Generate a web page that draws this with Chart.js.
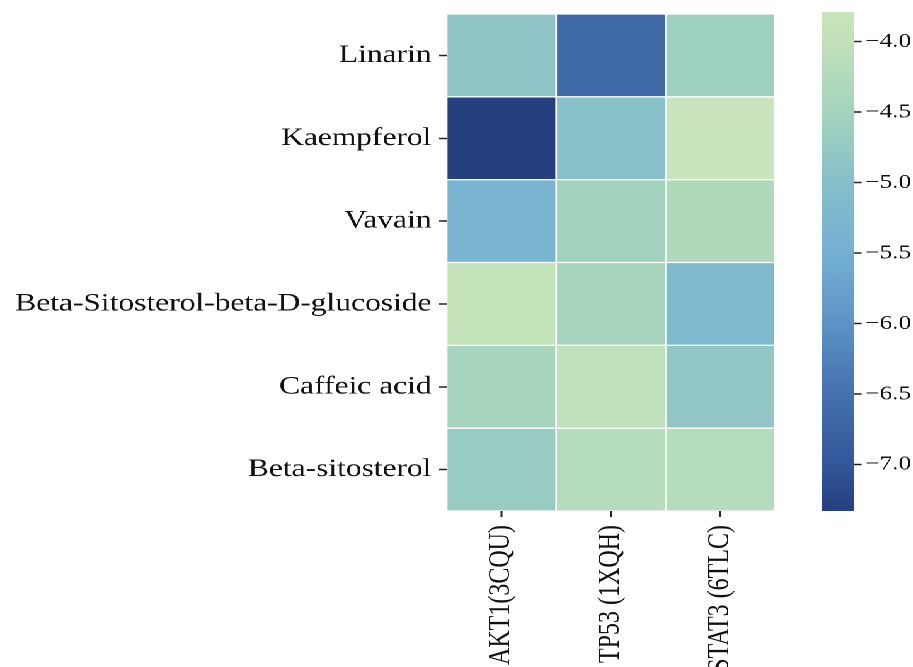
<!DOCTYPE html>
<html>
<head>
<meta charset="utf-8">
<script src="https://cdn.jsdelivr.net/npm/chart.js@4.4.1/dist/chart.umd.min.js"></script>
<style>
  html, body { margin: 0; padding: 0; background: #fff; overflow: hidden; }
  #wrap { position: absolute; left: 0; top: 0; width: 725px; height: 667px; transform: scaleX(1.26); transform-origin: 0 0; }
  #main { position: absolute; left: 0; top: 0; }
  #cbar { position: absolute; left: 640px; top: 0; }
</style>
</head>
<body>
<div id="wrap">
  <canvas id="main" width="640" height="667"></canvas>
  <canvas id="cbar" width="85" height="667"></canvas>
</div>
<script>
// ---- data ----
const compounds = ["Linarin", "Kaempferol", "Vavain", "Beta-Sitosterol-beta-D-glucoside", "Caffeic acid", "Beta-sitosterol"];
const genes = ["AKT1(3CQU)", "TP53 (1XQH)", "STAT3 (6TLC)"];
const akt1  = [-4.85, -7.33, -5.35, -3.97, -4.45, -4.70];
const tp53  = [-6.65, -4.95, -4.55, -4.45, -4.05, -4.25];
const stat3 = [-4.60, -3.79, -4.30, -5.20, -4.80, -4.22];
const colorbarTicks = [-7.0, -6.5, -6.0, -5.5, -5.0, -4.5, -4.0];
// colormap
const cmapValues = [-7.33, -7.0, -6.5, -6.0, -5.5, -5.0, -4.5, -4.0, -3.79];
const cmapColors = ["#263f7f", "#33569b", "#4571ae", "#5c93c6", "#74b0d3", "#86bfca", "#a4d4bd", "#c1e1ba", "#c9e5bd"];

const series = [akt1, tp53, stat3];
const allVals = [].concat(akt1, tp53, stat3);
const vmin = Math.min(...allVals);
const vmax = Math.max(...allVals);

function hexToRgb(h) { return [parseInt(h.slice(1,3),16), parseInt(h.slice(3,5),16), parseInt(h.slice(5,7),16)]; }
function colorFor(v) {
  if (v <= cmapValues[0]) return cmapColors[0];
  for (let i = 1; i < cmapValues.length; i++) {
    if (v <= cmapValues[i]) {
      const t = (v - cmapValues[i-1]) / (cmapValues[i] - cmapValues[i-1]);
      const a = hexToRgb(cmapColors[i-1]), b = hexToRgb(cmapColors[i]);
      const c = a.map((x, k) => Math.round(x + (b[k] - x) * t));
      return `rgb(${c[0]},${c[1]},${c[2]})`;
    }
  }
  return cmapColors[cmapColors.length - 1];
}

const FONT = "'Liberation Serif', 'Times New Roman', serif";
const TXT = '#111';
const noPad = s => { s.paddingTop = 0; s.paddingBottom = 0; s.paddingLeft = 0; s.paddingRight = 0; };

function draw() {
new Chart(document.getElementById('main'), {
  type: 'bar',
  data: {
    labels: compounds,
    datasets: series.map((vals, gi) => ({
      label: genes[gi],
      data: vals.map(() => 1),
      values: vals,
      backgroundColor: vals.map(colorFor),
      borderColor: '#ffffff',
      borderWidth: 1,
      borderSkipped: false,
      barPercentage: 1,
      categoryPercentage: 1
    }))
  },
  options: {
    indexAxis: 'y',
    responsive: false,
    devicePixelRatio: 2,
    animation: false,
    layout: { padding: { top: 14, left: 0, right: 24.9, bottom: 0 } },
    plugins: { legend: { display: false }, tooltip: { enabled: false } },
    scales: {
      y: {
        type: 'category',
        stacked: true,
        afterFit: s => { s.width = 354.5; noPad(s); },
        border: { display: false },
        grid: { display: true, offset: false, drawOnChartArea: false, drawTicks: true, tickLength: 6, tickWidth: 1.5, tickColor: '#222' },
        ticks: { font: { family: FONT, size: 25 }, color: TXT, padding: 6, autoSkip: false }
      },
      x: {
        type: 'linear',
        stacked: true,
        min: 0,
        max: genes.length,
        afterBuildTicks: s => { s.ticks = genes.map((g, i) => ({ value: i + 0.5 })); },
        afterFit: s => { s.height = 156; noPad(s); },
        border: { display: false },
        grid: { display: true, drawOnChartArea: false, drawTicks: true, tickLength: 6, tickWidth: 1.5, tickColor: '#222' },
        ticks: {
          font: { family: FONT, size: 24 }, color: TXT, padding: 8,
          minRotation: 90, maxRotation: 90, autoSkip: false,
          callback: (v, i) => genes[i]
        }
      }
    }
  }
});

new Chart(document.getElementById('cbar'), {
  type: 'bar',
  data: {
    labels: ['scale'],
    datasets: [{
      data: [[vmin, vmax]],
      backgroundColor: (ctx) => {
        const chart = ctx.chart;
        if (!chart.chartArea) return cmapColors[0];
        const ys = chart.scales.y;
        const y0 = ys.getPixelForValue(vmin), y1 = ys.getPixelForValue(vmax);
        const g = chart.ctx.createLinearGradient(0, y0, 0, y1);
        cmapValues.forEach((v, i) => {
          const t = Math.min(1, Math.max(0, (v - vmin) / (vmax - vmin)));
          g.addColorStop(t, cmapColors[i]);
        });
        return g;
      },
      borderWidth: 0,
      barPercentage: 1,
      categoryPercentage: 1
    }]
  },
  options: {
    responsive: false,
    devicePixelRatio: 2,
    animation: false,
    layout: { padding: { top: 12, bottom: 156, left: 12.1, right: 0 } },
    plugins: { legend: { display: false }, tooltip: { enabled: false } },
    scales: {
      x: { display: false },
      y: {
        position: 'right',
        min: vmin,
        max: vmax,
        afterFit: s => { s.width = 47.2; noPad(s); },
        afterBuildTicks: s => { s.ticks = colorbarTicks.map(v => ({ value: v })); },
        border: { display: false },
        grid: { display: true, drawOnChartArea: false, drawTicks: true, tickLength: 6, tickWidth: 1.5, tickColor: '#222' },
        ticks: {
          font: { family: FONT, size: 20 }, color: TXT, padding: 3,
          callback: v => (v < 0 ? '\u2212' : '') + Math.abs(v).toFixed(1)
        }
      }
    }
  }
});
}

Promise.all([
  document.fonts.load("25px 'Liberation Serif'"),
  document.fonts.load("20px 'Liberation Serif'")
]).then(draw, draw);
</script>
</body>
</html>
